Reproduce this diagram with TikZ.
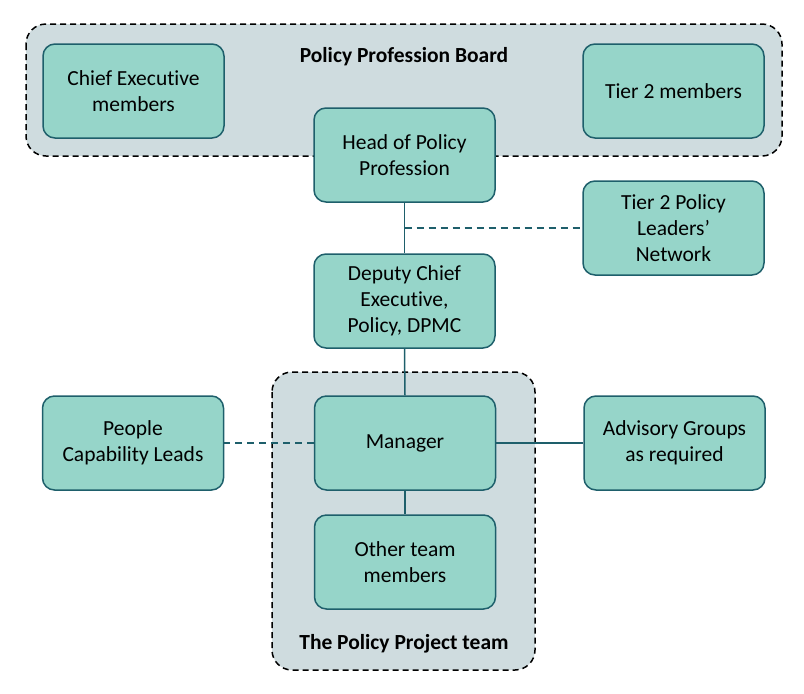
\documentclass[tikz,border=0pt]{standalone}
\usepackage{fontspec}
\setmainfont[Ligatures=NoCommon]{Carlito}
\begin{document}
\begin{tikzpicture}[x=1pt,y=-1pt,
  box/.style={draw=boxline,fill=boxfill,line width=1.5pt,rounded corners=12pt,align=center,font=\fontsize{21.5}{26}\selectfont,inner sep=0pt,minimum width=181pt,minimum height=94pt},
  grp/.style={draw=black,fill=grpfill,line width=1.5pt,dashed,dash pattern=on 6pt off 4pt,rounded corners=20pt},
  link/.style={draw=boxline,line width=1.5pt},
  dlink/.style={draw=boxline,line width=1.5pt,dash pattern=on 7pt off 5pt},
  ttl/.style={font=\bfseries\fontsize{21.5}{26}\selectfont}]
\definecolor{boxfill}{HTML}{96D5C9}
\definecolor{boxline}{HTML}{1E5F6B}
\definecolor{grpfill}{HTML}{CFDCDF}
\useasboundingbox (0,0) rectangle (804,694);
\draw[grp] (26,24) rectangle (782,156);
\draw[grp] (272,372) rectangle (535,670);
\node[ttl] (board) at (404,56.5) {Policy Profession Board};
\node[ttl] (team) at (404,643.5) {The Policy Project team};
\node[box] (ce) at (133.5,91) {Chief Executive\\members};
\node[box] (t2) at (673.5,91) {Tier 2 members};
\node[box] (head) at (404.5,155) {Head of Policy\\Profession};
\node[box] (net) at (673.5,228) {Tier 2 Policy\\Leaders'\\Network};
\node[box] (dce) at (404.5,301) {Deputy Chief\\Executive,\\Policy, DPMC};
\node[box] (mgr) at (405,443) {\raisebox{-2pt}{Manager}};
\node[box] (pcl) at (133,443) {People\\Capability Leads};
\node[box] (adv) at (674.5,443) {Advisory Groups\\as required};
\node[box] (oth) at (405,562) {Other team\\members};
\coordinate (j) at (head.south |- net.west);
\draw[link] (head.south) -- (dce.north);
\draw[dlink] (j) -- (net.west);
\draw[link] (dce.south) -- (mgr.north);
\draw[dlink] (mgr.west) -- (pcl.east);
\draw[link] (mgr.east) -- (adv.west);
\draw[link] (mgr.south) -- (oth.north);
\end{tikzpicture}
\end{document}
